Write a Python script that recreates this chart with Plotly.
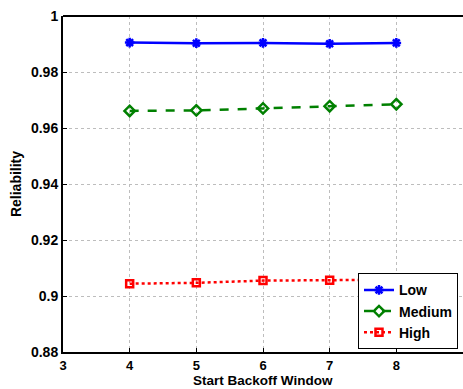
import plotly.graph_objects as go

x_vals = [4, 5, 6, 7, 8]
low = [0.9905, 0.9903, 0.9904, 0.9901, 0.9904]
medium = [0.9661, 0.9663, 0.9670, 0.9678, 0.9685]
high = [0.9044, 0.9047, 0.9055, 0.9056, 0.9058]
y_ticks = [0.88, 0.9, 0.92, 0.94, 0.96, 0.98, 1.0]
y_ticktext = ["0.88", "0.9", "0.92", "0.94", "0.96", "0.98", "1"]
x_ticks = [3, 4, 5, 6, 7, 8, 9]

FONT = "Liberation Sans, Arial, sans-serif"
W, H = 463, 389
ML, MR, MT, MB = 63, 0, 16, 37

fig = go.Figure()
fig.add_trace(go.Scatter(x=x_vals, y=low, name="<b>Low</b>", mode="lines+markers",
                         line=dict(color="#0000ff", width=2.5, dash="solid"),
                         marker=dict(symbol="asterisk-open", size=8, color="#0000ff",
                                     line=dict(color="#0000ff", width=2.5))))
fig.add_trace(go.Scatter(x=x_vals, y=medium, name="<b>Medium</b>", mode="lines+markers",
                         line=dict(color="#008000", width=2.5, dash="dash"),
                         marker=dict(symbol="diamond-open", size=8, color="#008000",
                                     line=dict(color="#008000", width=2.5))))
fig.add_trace(go.Scatter(x=x_vals, y=high, name="<b>High</b>", mode="lines+markers",
                         line=dict(color="#ff0000", width=2.5, dash="dot"),
                         marker=dict(symbol="square-open", size=7, color="#ff0000",
                                     line=dict(color="#ff0000", width=2.5))))

axis_common = dict(
    showline=True, linecolor="black", linewidth=2,
    ticks="inside", ticklen=4, tickcolor="black", tickwidth=1,
    showgrid=True, gridcolor="#bdbdbd", gridwidth=1, griddash="dot",
    zeroline=False,
)

fig.update_layout(
    width=W, height=H,
    margin=dict(l=ML, r=MR, t=MT, b=MB),
    paper_bgcolor="white", plot_bgcolor="white",
    font=dict(family=FONT, color="black"),
    xaxis=dict(range=[3, 9], tickvals=x_ticks, ticktext=["<b>%d</b>" % v for v in x_ticks],
               tickfont=dict(family=FONT, size=13, color="black", weight="bold"),
               **axis_common),
    yaxis=dict(range=[0.88, 1.0], tickvals=y_ticks, ticktext=["<b>%s</b>" % t for t in y_ticktext],
               tickfont=dict(family=FONT, size=14, color="black", weight="bold"),
               title=dict(text="<b>Reliability</b>", font=dict(family=FONT, size=14), standoff=6),
               **axis_common),
    legend=dict(x=0.9875, y=0.008, xanchor="right", yanchor="bottom",
                bgcolor="white", bordercolor="black", borderwidth=1,
                font=dict(family=FONT, size=14, color="black"),
                tracegroupgap=0, itemwidth=30),
    showlegend=True,
)
plot_h = H - MT - MB
fig.add_annotation(text="<b>Start Backoff Window</b>", xref="paper", yref="paper",
                   x=0.5, y=-MB / plot_h, xanchor="center", yanchor="bottom",
                   showarrow=False, font=dict(family=FONT, size=13.5, color="black"),
                   borderpad=0, yshift=0)
fig.add_shape(type="line", xref="paper", yref="paper", x0=0, x1=1, y0=1, y1=1,
              line=dict(color="black", width=2))

fig.write_html("out.html")
